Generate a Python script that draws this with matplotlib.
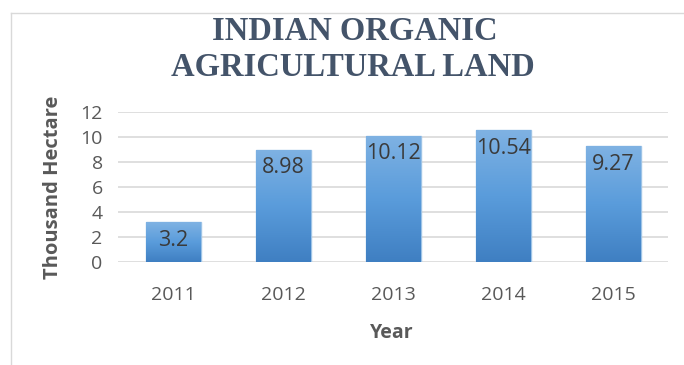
import matplotlib
matplotlib.use("Agg")
import matplotlib.pyplot as plt
import numpy as np
from matplotlib.colors import LinearSegmentedColormap
from matplotlib.lines import Line2D

years = ["2011", "2012", "2013", "2014", "2015"]
values = [3.2, 8.98, 10.12, 10.54, 9.27]
labels = ["3.2", "8.98", "10.12", "10.54", "9.27"]
yticks = [0, 2, 4, 6, 8, 10, 12]

fig = plt.figure(figsize=(6.84, 3.65), dpi=100)
ax = fig.add_axes([118/684, 103/365, 550/684, 150/365])

x = np.arange(len(years))
bars = ax.bar(x, values, width=0.5, color="#5B9BD5", edgecolor="#9DC3E6", linewidth=1.0, zorder=2)

cmap = LinearSegmentedColormap.from_list("g", ["#3F7FC2", "#5A9CDB", "#7FB2E3"])
grad = np.linspace(0, 1, 256).reshape(-1, 1)
for b in bars:
    x0, y0 = b.get_x(), b.get_y()
    w, h = b.get_width(), b.get_height()
    im = ax.imshow(grad, cmap=cmap, origin="lower", aspect="auto",
                   extent=[x0, x0 + w, y0, y0 + h], zorder=2.5)
    im.set_clip_path(b)

for xi, v, lab in zip(x, values, labels):
    ax.annotate(lab, xy=(xi, v), xytext=(0, -13), textcoords="offset points",
                ha="center", va="center", fontsize=15.5,
                color="#3A3A3A", family="Open Sans", zorder=3)

ax.set_xlim(-0.5, len(years) - 0.5)
ax.set_ylim(0, 12)
ax.set_yticks(yticks)
ax.set_yticklabels([str(t) for t in yticks])
ax.set_xticks(x)
ax.set_xticklabels(years)
ax.grid(axis="y", color="#D9D9D9", linewidth=1.2, zorder=0)
ax.set_axisbelow(True)
for s in ax.spines.values():
    s.set_visible(False)
ax.tick_params(axis="both", length=0, labelsize=14, labelcolor="#595959")
ax.tick_params(axis="x", pad=17)
ax.tick_params(axis="y", pad=11)
for t in ax.get_xticklabels() + ax.get_yticklabels():
    t.set_family("Open Sans")

fig.text(53/684, 1 - 187/365, "Thousand Hectare", rotation=90, ha="center", va="center",
         fontsize=14.5, fontweight="bold", color="#595959", family="Open Sans")
fig.text(392/684, 1 - 333/365, "Year", ha="center", va="center",
         fontsize=14, fontweight="bold", color="#595959", family="Open Sans")

fig.text(355/684, 1 - 31/365, "INDIAN ORGANIC", ha="center", va="center",
         fontsize=23.5, fontweight="bold", color="#44546A", family="Liberation Serif")
fig.text(353/684, 1 - 68/365, "AGRICULTURAL LAND", ha="center", va="center",
         fontsize=23.5, fontweight="bold", color="#44546A", family="Liberation Serif")

fig.add_artist(Line2D([11/684, 1], [1 - 13/365, 1 - 13/365], color="#D9D9D9", linewidth=1))
fig.add_artist(Line2D([11/684, 11/684], [0, 1 - 13/365], color="#D9D9D9", linewidth=1))

fig.savefig("out.png", dpi=100)
